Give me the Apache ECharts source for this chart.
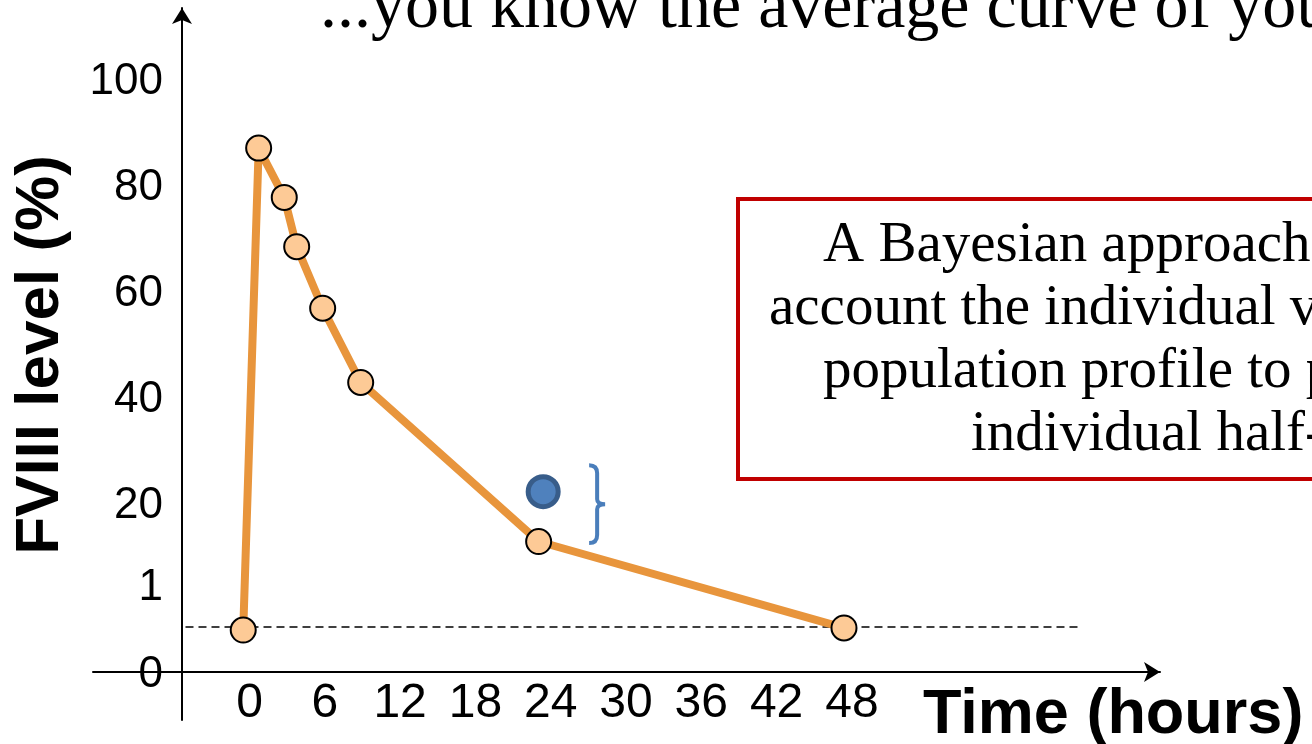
<!DOCTYPE html>
<html>
<head>
<meta charset="utf-8">
<script src="https://cdn.jsdelivr.net/npm/echarts@6/dist/echarts.min.js"></script>
<style>
  html, body { margin: 0; padding: 0; background: #fff; overflow: hidden; }
  #chart { width: 1312px; height: 744px; }
</style>
</head>
<body>
<div id="chart"></div>
<script>
// Average FVIII activity curve after an infusion (time in hours, level in %)
const timeHours  = [-0.5, 0.73, 2.77, 3.76, 5.83, 8.86, 23.04, 47.37];
const fviiiLevel = [-3.4, 87.5, 78.2, 68.9, 57.3, 43.3, 13.3, -3.0];

// One individual measurement
const patientTime  = [23.4];
const patientLevel = [22.7];

// Bracket between the average curve and the individual value
const bracketTime  = 27.7;
const bracketRange = [13.0, 27.7];

// Dashed reference level
const thresholdLevel = -2.8;
const thresholdSpan  = [-5.1, 66.2];

// Axis ticks
const xTickValues = [0, 6, 12, 18, 24, 30, 36, 42, 48];
const yTickValues = [-11.9, 4.5, 20, 40, 60, 80, 100];
const yTickLabels = ['0', '1', '20', '40', '60', '80', '100'];

// Text
const titleText = '...you know the average curve of your population';
const noteLines = [
  'A Bayesian approach that takes into',
  'account the individual values and the',
  'population profile to predict the',
  'individual half-life'
];

const SANS = "'Liberation Sans', Arial, sans-serif";
const SERIF = "'Liberation Serif', 'Times New Roman', serif";

const chart = echarts.init(document.getElementById('chart'), null, { renderer: 'canvas' });

const axisLineStyle = { color: '#000', width: 2 };

const option = {
  animation: false,
  backgroundColor: '#fff',
  grid: {
    left: 93, right: 152, top: 8, bottom: 24,
    containLabel: false,
    outerBoundsMode: 'none'
  },
  xAxis: [
    {
      type: 'value',
      min: -12.47,
      max: 72.55,
      axisLine: {
        onZero: true, onZeroAxisIndex: 1,
        symbol: ['none', 'arrow'], symbolSize: [15, 16],
        lineStyle: axisLineStyle
      },
      axisTick: { show: false },
      splitLine: { show: false },
      // labels sit just under the crossing line, above the grid's bottom edge
      axisLabel: {
        customValues: xTickValues,
        margin: -40,
        color: '#000',
        fontSize: 48,
        fontFamily: SANS
      },
      name: 'Time (hours)',
      nameLocation: 'end',
      nameGap: -237,
      nameMoveOverlap: false,
      nameTextStyle: {
        color: '#000', fontSize: 63, fontWeight: 'bold', fontFamily: SANS,
        align: 'left', verticalAlign: 'top', padding: [12, 0, 0, 0]
      }
    },
    { type: 'value', min: -89, max: 978, show: false }
  ],
  yAxis: [
    {
      type: 'value',
      min: -20.36,
      max: 113.92,
      axisLine: {
        onZero: true, onZeroAxisIndex: 1,
        symbol: ['none', 'arrow'], symbolSize: [15, 16],
        lineStyle: axisLineStyle
      },
      axisTick: { show: false },
      splitLine: { show: false },
      // labels sit just left of the crossing line
      axisLabel: {
        customValues: yTickValues,
        formatter: v => {
          const i = yTickValues.findIndex(t => Math.abs(t - v) < 1e-6);
          return i >= 0 ? yTickLabels[i] : '';
        },
        margin: -70,
        align: 'right',
        color: '#000',
        fontSize: 44,
        fontFamily: SANS
      },
      name: 'FVIII level (%)',
      nameLocation: 'middle',
      nameRotate: 90,
      nameGap: 21,
      nameMoveOverlap: false,
      nameTextStyle: {
        color: '#000', fontSize: 62, fontWeight: 'bold', fontFamily: SANS,
        padding: [0, 0, 0, 18]
      }
    },
    { type: 'value', min: -48, max: 664, show: false }
  ],
  series: [
    {
      name: 'reference level',
      type: 'line',
      xAxisIndex: 0, yAxisIndex: 0,
      data: thresholdSpan.map(t => [t, thresholdLevel]),
      symbol: 'none',
      lineStyle: { color: '#000', width: 1.5, type: [8, 5] },
      z: 1,
      silent: true
    },
    {
      name: 'average curve',
      type: 'line',
      xAxisIndex: 0, yAxisIndex: 0,
      data: timeHours.map((t, i) => [t, fviiiLevel[i]]),
      symbol: 'circle',
      symbolSize: 25,
      showAllSymbol: true,
      lineStyle: { color: '#E8953C', width: 8 },
      itemStyle: { color: '#FDCA96', borderColor: '#000', borderWidth: 2 },
      z: 3
    },
    {
      name: 'individual value',
      type: 'scatter',
      xAxisIndex: 0, yAxisIndex: 0,
      data: patientTime.map((t, i) => [t, patientLevel[i]]),
      symbol: 'circle',
      symbolSize: 30,
      itemStyle: { color: '#4F81BD', borderColor: '#385D8A', borderWidth: 5, opacity: 1 },
      z: 4
    },
    {
      name: 'difference',
      type: 'custom',
      xAxisIndex: 0, yAxisIndex: 0,
      data: [[bracketTime, bracketRange[0], bracketRange[1]]],
      renderItem: (params, api) => {
        const top = api.coord([api.value(0), api.value(2)]);
        const bot = api.coord([api.value(0), api.value(1)]);
        const x = top[0], y1 = top[1], y2 = bot[1], mid = (y1 + y2) / 2;
        const hook = 8, nub = 8;
        const d =
          `M${x - hook} ${y1} Q${x} ${y1} ${x} ${y1 + hook} ` +
          `L${x} ${mid - 5} Q${x} ${mid} ${x + nub} ${mid} ` +
          `Q${x} ${mid} ${x} ${mid + 5} L${x} ${y2 - hook} ` +
          `Q${x} ${y2} ${x - hook} ${y2}`;
        return {
          type: 'path',
          shape: { pathData: d },
          style: { fill: 'none', stroke: '#4A7EBB', lineWidth: 4 }
        };
      },
      z: 4
    }
  ],
  graphic: [
    {
      type: 'text',
      style: {
        text: titleText, x: 320, y: 9,
        font: `68px ${SERIF}`, fill: '#000',
        align: 'left', verticalAlign: 'middle'
      },
      z: 10
    },
    {
      type: 'rect',
      shape: { x: 738, y: 199, width: 700, height: 280 },
      style: { fill: '#fff', stroke: '#C00000', lineWidth: 4 },
      z: 5
    },
    ...noteLines.map((line, i) => ({
      type: 'text',
      style: {
        text: line,
        x: [823, 769, 823, 971][i],
        y: 246 + i * 63,
        font: `57px ${SERIF}`, fill: '#000',
        align: 'left', verticalAlign: 'middle'
      },
      z: 6
    }))
  ]
};

chart.setOption(option);
</script>
</body>
</html>
